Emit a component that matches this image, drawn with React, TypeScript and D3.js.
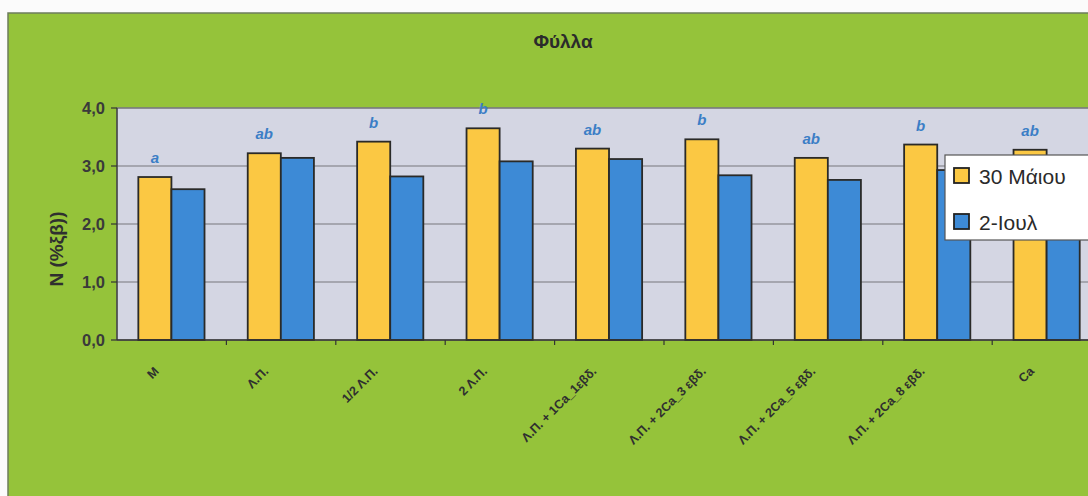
import React from "react";
import * as d3 from "d3";

// Leaf nitrogen (% dry weight) per treatment, two sampling dates
const categories = [
  "M",
  "Λ.Π.",
  "1/2 Λ.Π.",
  "2 Λ.Π.",
  "Λ.Π. + 1Ca_1εβδ.",
  "Λ.Π. + 2Ca_3 εβδ.",
  "Λ.Π. + 2Ca_5 εβδ.",
  "Λ.Π. + 2Ca_8 εβδ.",
  "Ca",
];
const seriesNames = ["30 Μάιου", "2-Ιουλ"];
const may30 = [2.81, 3.22, 3.42, 3.65, 3.3, 3.46, 3.14, 3.37, 3.28];
const jul2 = [2.6, 3.14, 2.82, 3.08, 3.12, 2.84, 2.76, 2.93, 2.95];
const groupLetters = ["a", "ab", "b", "b", "ab", "b", "ab", "b", "ab"];
const yTicks = [0, 1, 2, 3, 4];

const W = 1088;
const H = 496;
const plot = { left: 117, right: 117 + 9 * 109.4, top: 108, bottom: 340 };
const colors = ["#fbc843", "#3d8ad6"];
const green = "#95c33a";

export default function App() {
  const x = d3
    .scaleBand<string>()
    .domain(categories)
    .range([plot.left, plot.right])
    .padding(0);
  const bw = x.bandwidth();
  const inner = d3
    .scaleBand<string>()
    .domain(seriesNames)
    .range([bw * 0.195, bw * 0.8])
    .padding(0);
  const y = d3.scaleLinear().domain([0, 4]).range([plot.bottom, plot.top]);
  const series = [may30, jul2];
  const font = "'Liberation Sans', Arial, sans-serif";

  return (
    <svg
      width={W}
      height={H}
      style={{ position: "absolute", left: 0, top: 0, display: "block" }}
      fontFamily={font}
    >
      <rect x={0} y={0} width={W} height={H} fill="#fbfbfb" />
      {/* green chart frame */}
      <rect x={8} y={13} width={W + 20} height={H} fill={green} stroke="#6e7d5c" strokeWidth={1.5} />

      {/* title */}
      <text x={563} y={48} textAnchor="middle" fontSize={19} fontWeight="bold" fill="#2b2b2b">
        Φύλλα
      </text>

      {/* plot area */}
      <rect
        x={plot.left}
        y={plot.top}
        width={plot.right - plot.left}
        height={plot.bottom - plot.top}
        fill="#d4d6e3"
        stroke="#7e7e86"
        strokeWidth={1.2}
      />
      {yTicks.slice(1).map((t) => (
        <line
          key={t}
          x1={plot.left}
          x2={plot.right}
          y1={y(t)}
          y2={y(t)}
          stroke="#77777c"
          strokeWidth={1.2}
        />
      ))}

      {/* bars */}
      {categories.map((c, i) =>
        seriesNames.map((s, j) => {
          const v = series[j][i];
          return (
            <rect
              key={c + s}
              x={(x(c) as number) + (inner(s) as number)}
              y={y(v)}
              width={inner.bandwidth()}
              height={y(0) - y(v)}
              fill={colors[j]}
              stroke="#2a2a28"
              strokeWidth={1.8}
            />
          );
        })
      )}

      {/* significance letters */}
      {categories.map((c, i) => (
        <text
          key={"l" + c}
          x={(x(c) as number) + (inner(seriesNames[0]) as number) + inner.bandwidth() / 2}
          y={y(may30[i]) - 14}
          textAnchor="middle"
          fontSize={15}
          fontWeight="bold"
          fontStyle="italic"
          fill="#3b7ec6"
        >
          {groupLetters[i]}
        </text>
      ))}

      {/* axes */}
      <line x1={plot.left} x2={plot.left} y1={plot.top} y2={plot.bottom} stroke="#333" strokeWidth={1.2} />
      <line x1={plot.left} x2={plot.right} y1={plot.bottom} y2={plot.bottom} stroke="#333" strokeWidth={1.5} />
      {yTicks.map((t) => (
        <g key={"yt" + t}>
          <line x1={plot.left - 6} x2={plot.left} y1={y(t)} y2={y(t)} stroke="#333" strokeWidth={1.2} />
          <text
            x={105}
            y={y(t) + 5.5}
            textAnchor="end"
            fontSize={16.5}
            fontWeight="bold"
            fill="#3a3a3a"
          >
            {t.toFixed(1).replace(".", ",")}
          </text>
        </g>
      ))}
      {categories.map((c) => (
        <line
          key={"xt" + c}
          x1={(x(c) as number) + bw}
          x2={(x(c) as number) + bw}
          y1={plot.bottom}
          y2={plot.bottom + 5}
          stroke="#333"
          strokeWidth={1.2}
        />
      ))}
      {categories.map((c) => {
        const cx = (x(c) as number) + bw / 2 - 12;
        const cy = 372;
        return (
          <text
            key={"xl" + c}
            x={cx}
            y={cy}
            transform={`rotate(-45 ${cx} ${cy})`}
            textAnchor="end"
            fontSize={12.5}
            fontWeight="bold"
            fill="#2f2f2f"
          >
            {c}
          </text>
        );
      })}

      {/* y axis title */}
      <text
        x={0}
        y={0}
        transform={`translate(63 249) rotate(-90)`}
        textAnchor="middle"
        fontSize={19}
        fontWeight="bold"
        fill="#2f2f2f"
      >
        N (%ξβ))
      </text>

      {/* legend */}
      <g>
        <rect x={945} y={155} width={160} height={85} fill="#ffffff" stroke="#555" strokeWidth={1.2} />
        {seriesNames.map((s, j) => (
          <g key={"lg" + s}>
            <rect
              x={954}
              y={168 + j * 46}
              width={15}
              height={15}
              fill={colors[j]}
              stroke="#222"
              strokeWidth={1.8}
            />
            <text x={979} y={184 + j * 46} fontSize={21} fill="#2a2a2a">
              {s}
            </text>
          </g>
        ))}
      </g>
    </svg>
  );
}
